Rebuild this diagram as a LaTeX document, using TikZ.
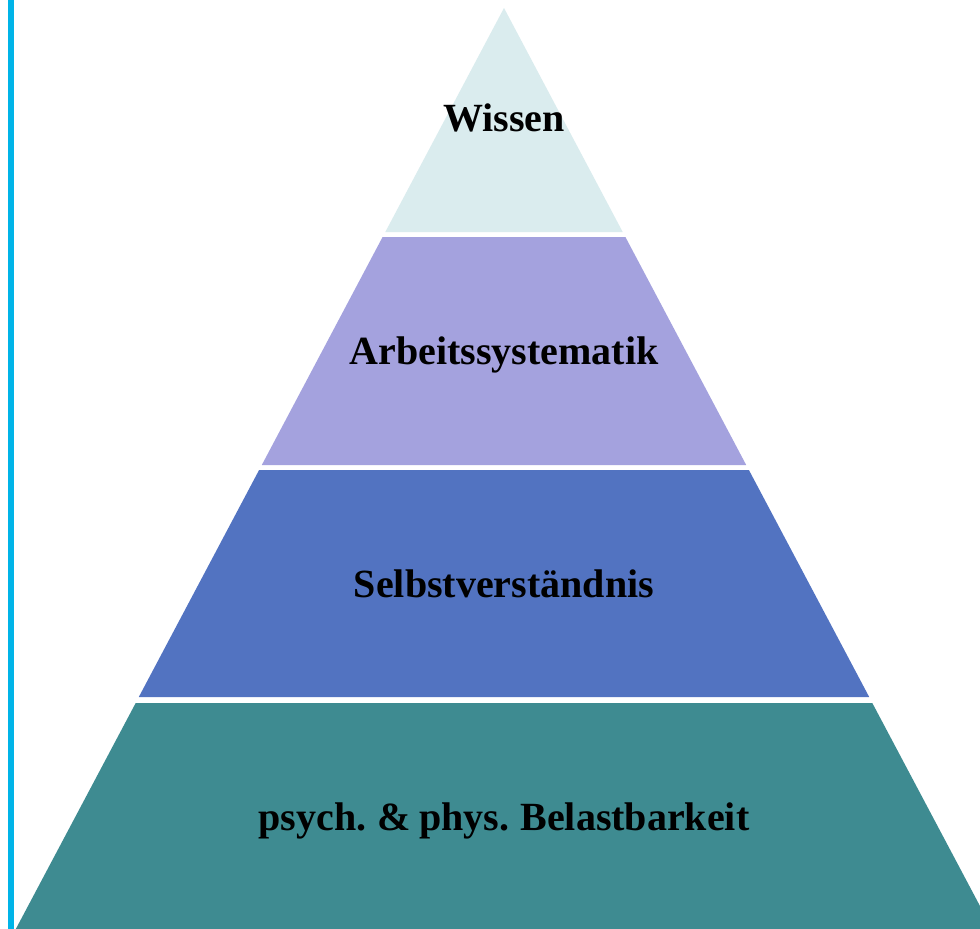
\documentclass[tikz,border=0pt]{standalone}
\usepackage{fontspec}
\setmainfont{Liberation Serif}
\definecolor{tiertop}{RGB}{218,236,238}
\definecolor{tierlav}{RGB}{164,162,222}
\definecolor{tierblue}{RGB}{82,115,193}
\definecolor{tierteal}{RGB}{62,139,145}
\definecolor{sidebar}{RGB}{0,180,232}
\usetikzlibrary{calc}

\begin{document}
\begin{tikzpicture}[
    x=1pt, y=-1pt,
    lbl/.style={anchor=base, font=\fontsize{40}{48}\selectfont\bfseries, text=black, inner sep=0pt}
]
    \useasboundingbox (0,0) rectangle (980,929);
    \clip (0,0) rectangle (980,929);
    \fill[white] (0,0) rectangle (980,929);

    % pyramid tiers
    \fill[tiertop]  (504,8) -- (622.7,232) -- (385.3,232) -- cycle;
    \fill[tierlav]  (382.6,237) -- (625.4,237) -- (746.2,465) -- (261.8,465) -- cycle;
    \fill[tierblue] (259.1,470) -- (748.9,470) -- (869.2,697) -- (138.8,697) -- cycle;
    \fill[tierteal] (135.7,703) -- (872.3,703) -- (994.3,933) -- (13.7,933) -- cycle;

    % side bar
    \draw[sidebar, line width=6.5pt] (11,0) -- (11,929);

    \node[lbl] (wissen) at (504,131) {Wissen};
    \node[lbl] (arbeit) at (504,364) {Arbeitssystematik};
    \node[lbl] (selbst) at (504,597) {Selbstverständnis};
    \node[lbl] (belast) at (504,830) {\spaceskip=0.2em\relax psych. \& phys. Belastbarkeit};
\end{tikzpicture}
\end{document}
